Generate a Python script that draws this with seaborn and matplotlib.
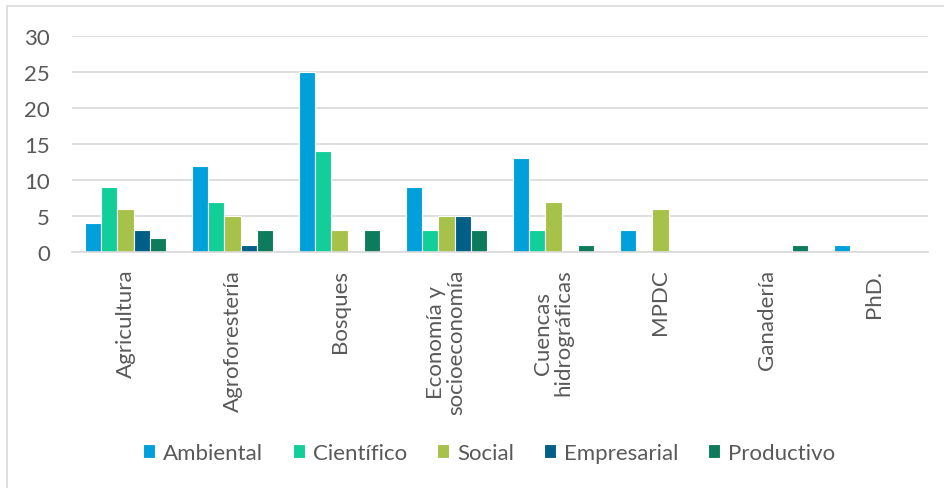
import matplotlib
matplotlib.use("Agg")
import matplotlib.pyplot as plt
import seaborn as sns
import pandas as pd
from matplotlib.patches import Rectangle

categories = ["Agricultura", "Agroforestería", "Bosques", "Economía y\nsocioeconomía",
              "Cuencas\nhidrográficas", "MPDC", "Ganadería", "PhD."]
series = ["Ambiental", "Científico", "Social", "Empresarial", "Productivo"]
ambiental = [4, 12, 25, 9, 13, 3, 0, 1]
cientifico = [9, 7, 14, 3, 3, 0, 0, 0]
social = [6, 5, 3, 5, 7, 6, 0, 0]
empresarial = [3, 1, 0, 5, 0, 0, 0, 0]
productivo = [2, 3, 3, 3, 1, 0, 1, 0]
yticks = [0, 5, 10, 15, 20, 25, 30]

colors = ["#00A0DA", "#12CF9A", "#A6C249", "#005F86", "#0E7C5C"]

rows = []
for s, vals in zip(series, [ambiental, cientifico, social, empresarial, productivo]):
    for c, v in zip(categories, vals):
        rows.append({"Categoria": c, "Serie": s, "Valor": v})
df = pd.DataFrame(rows)

sns.set_theme(style="white")
plt.rcParams["font.family"] = ["Lato", "DejaVu Sans"]
text_color = "#595959"
fs = 16

fig = plt.figure(figsize=(9.45, 4.89), dpi=100)
ax = fig.add_axes([72/945, 1 - 253/489, (928-72)/945, (253-37)/489])

sns.barplot(data=df, x="Categoria", y="Valor", hue="Serie", order=categories,
            hue_order=series, palette=colors, width=0.75, ax=ax,
            saturation=1, edgecolor="white", linewidth=0.8, legend=True)

ax.set_ylim(0, 30)
ax.set_yticks(yticks)
ax.set_xlim(-0.5, len(categories) - 0.5)
ax.yaxis.grid(True, color="#D9D9D9", linewidth=1.2)
ax.set_axisbelow(True)
for sp in ["top", "right", "left"]:
    ax.spines[sp].set_visible(False)
ax.spines["bottom"].set_color("#D9D9D9")
ax.spines["bottom"].set_linewidth(1.2)
ax.set_xlabel("")
ax.set_ylabel("")
ax.tick_params(axis="y", length=0, labelsize=fs, labelcolor=text_color, pad=16)
ax.tick_params(axis="x", length=0, labelsize=fs, labelcolor=text_color, pad=12)
for lab in ax.get_xticklabels():
    lab.set_rotation(90)
    lab.set_ha("center")
    lab.set_va("top")
    lab.set_multialignment("center")
    lab.set_linespacing(1.0)

handles, labels = ax.get_legend_handles_labels()
ax.legend_.remove()
fig.legend(handles, labels, loc="center", bbox_to_anchor=(489/945, 1 - 454/489),
           ncol=5, frameon=False, fontsize=fs, labelcolor=text_color,
           handlelength=0.55, handleheight=0.55, handletextpad=0.35, columnspacing=1.35)

fig.patches.append(Rectangle((7/945, -0.1), 1.2, (489-7)/489 + 0.1, transform=fig.transFigure,
                             fill=False, edgecolor="#D9D9D9", linewidth=1.2))

fig.savefig("out.png", dpi=100, facecolor="white")
